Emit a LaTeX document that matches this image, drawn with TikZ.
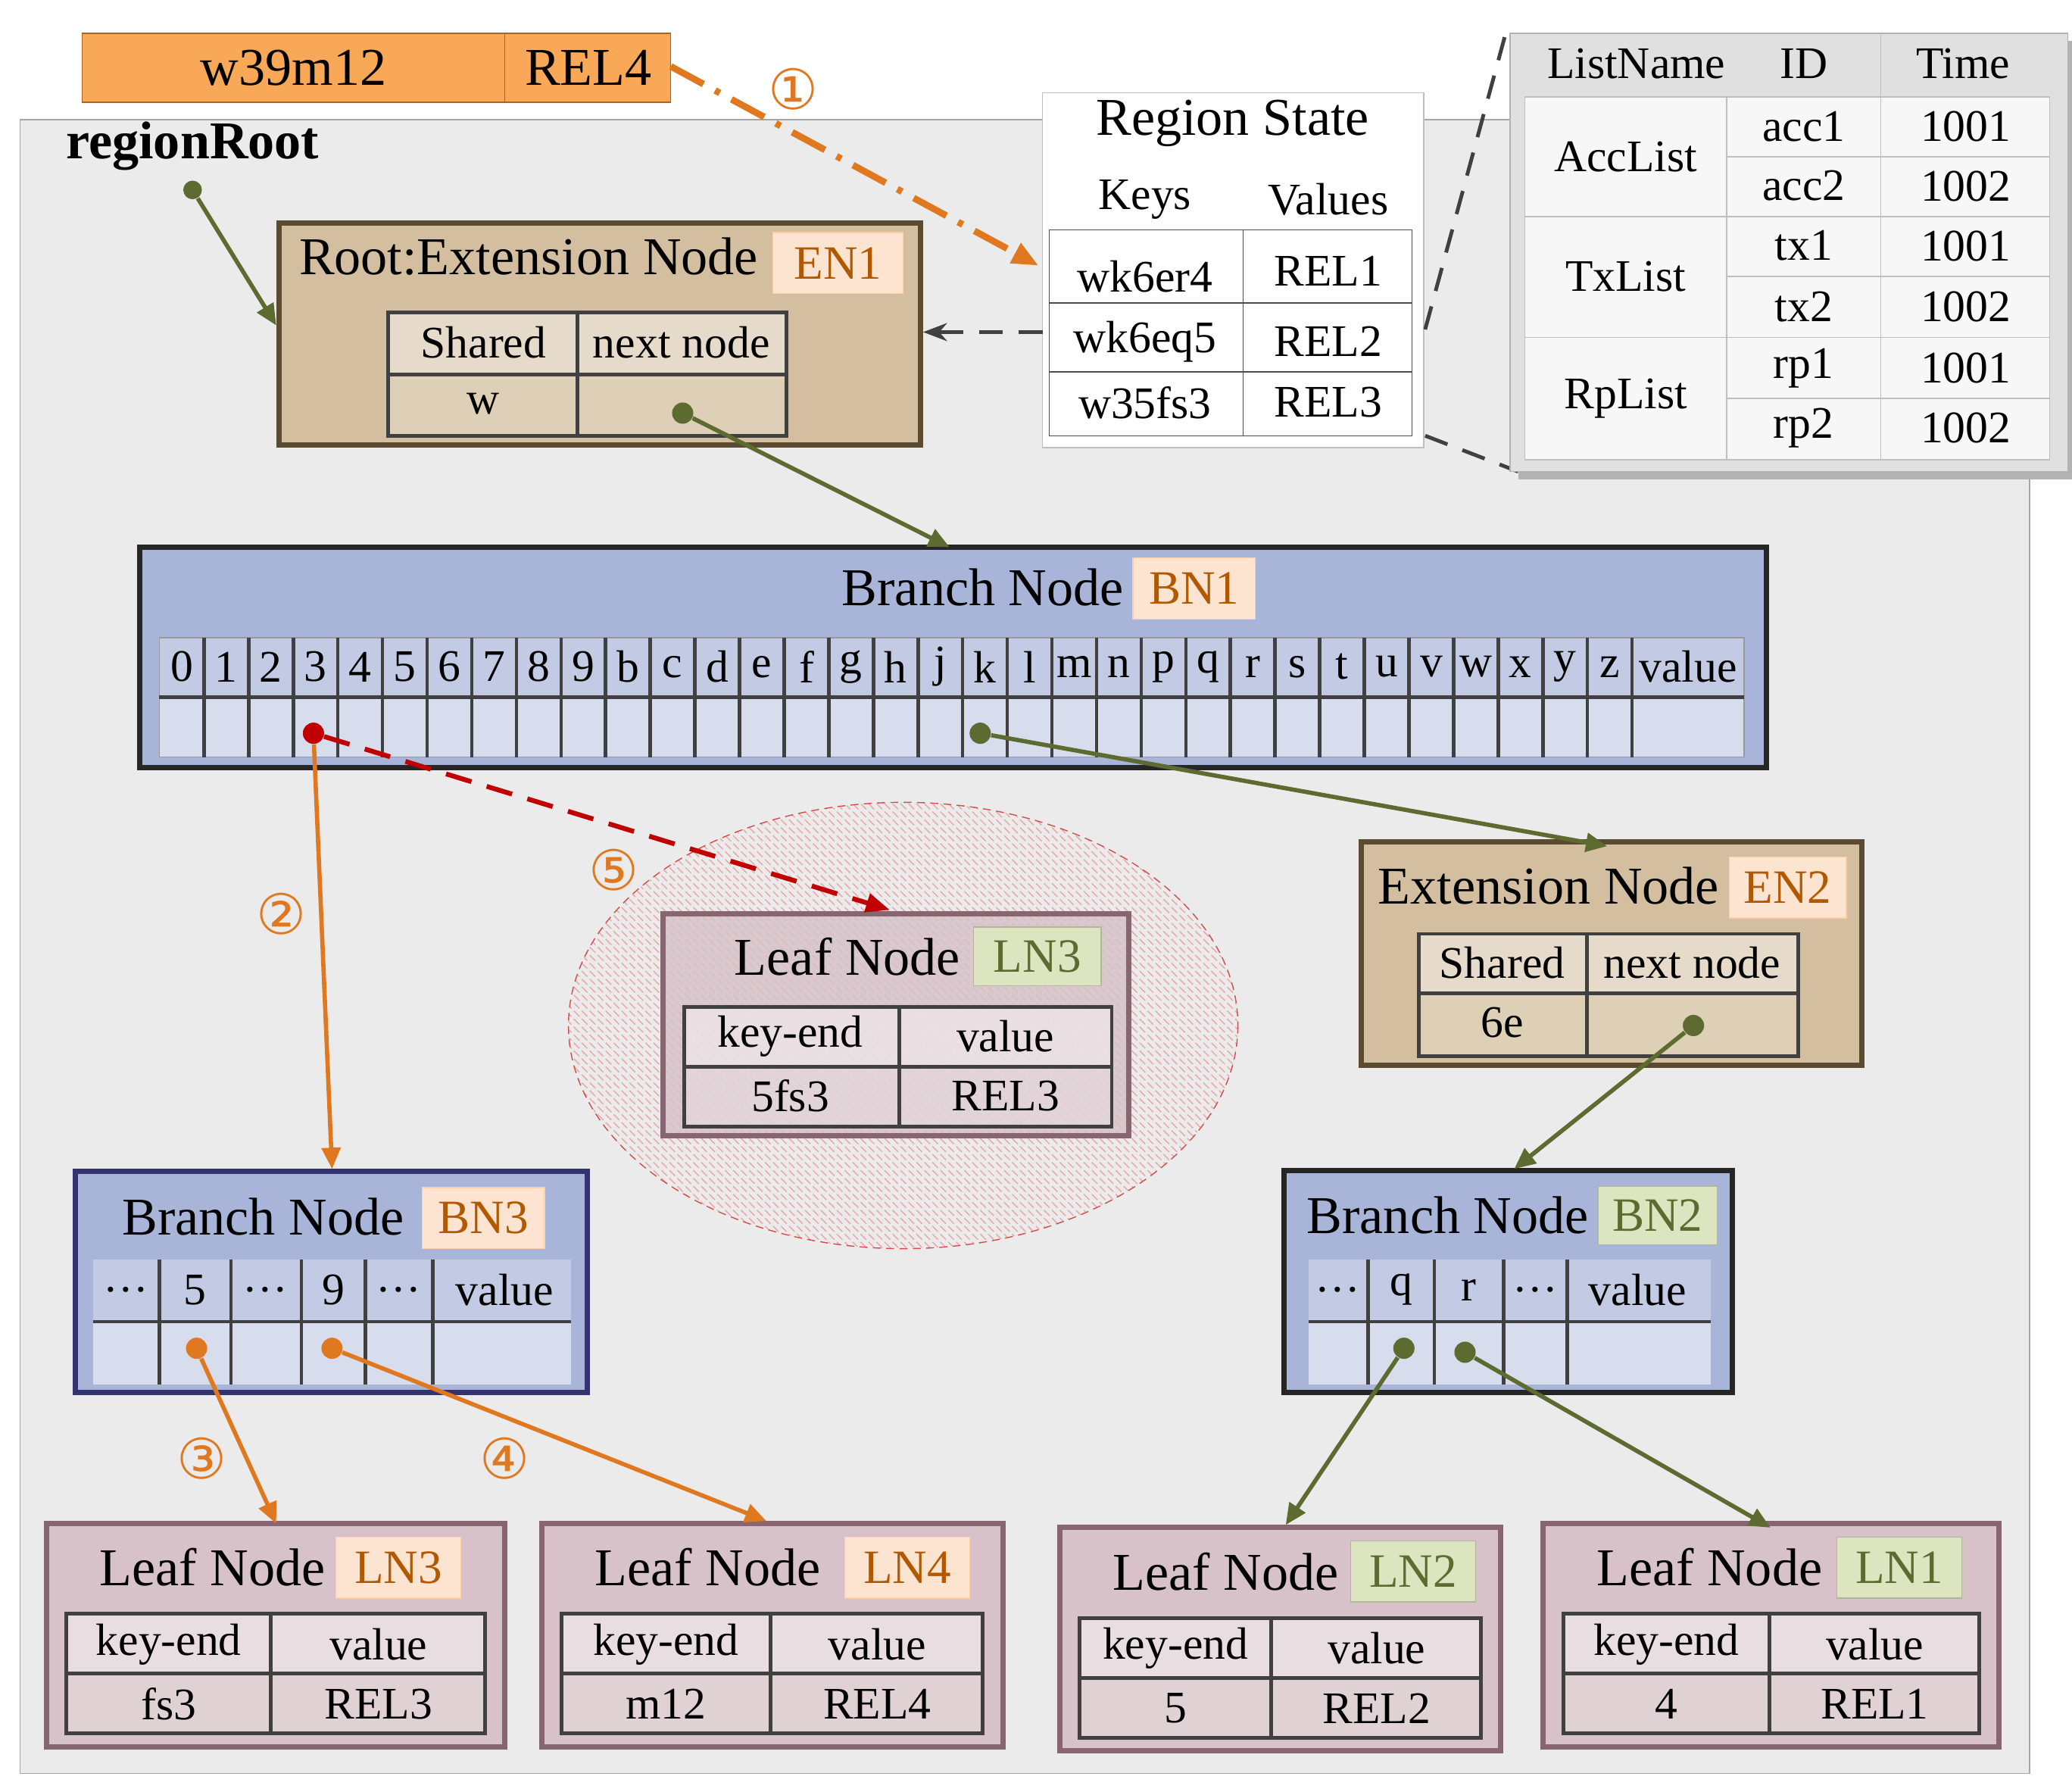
\documentclass[tikz,border=0pt]{standalone}
\usepackage{fontspec}
\setmainfont{Liberation Serif}
\newfontfamily\circf{DejaVu Sans}
\usetikzlibrary{arrows.meta,patterns}
\definecolor{tan}{HTML}{D3BFA0}
\definecolor{tanb}{HTML}{5A4A30}
\definecolor{blu}{HTML}{A9B5D8}
\definecolor{leaf}{HTML}{D6C2C8}
\definecolor{peach}{HTML}{FCE4D0}
\definecolor{pgreen}{HTML}{DDE5C0}
\definecolor{org}{HTML}{E07820}
\definecolor{olv}{HTML}{5E6B30}
\definecolor{rd}{HTML}{C00000}
\tikzset{
 big/.style={font=\fontsize{20}{22}\selectfont},
 cell/.style={font=\fontsize{17}{19}\selectfont},
 tagO/.style={fill=peach,draw=peach!80!orange,text=orange!70!black,font=\fontsize{18}{20}\selectfont},
 tagG/.style={fill=pgreen,draw=pgreen!80!black,text=olv,font=\fontsize{18}{20}\selectfont},
 garr/.style={olv,line width=1.6pt,-{Triangle[length=8pt,width=7pt]}},
 oarr/.style={org,line width=1.6pt,-{Triangle[length=8pt,width=7pt]}},
 dot/.style={circle,inner sep=0pt,minimum size=5pt},
 circ/.style={text=org,font=\circf\fontsize{21}{23}\selectfont},
 gdash/.style={black!75,line width=1.4pt,dash pattern=on 9pt off 6pt},
}
\newcommand\ttab[6]{%
 \fill[white,opacity=.45] (#1,#4) rectangle (#3,#5);
 \fill[white,opacity=.25] (#1,#5) rectangle (#3,#6);
 \draw[black!75,line width=1.4pt] (#1,#4) rectangle (#3,#6) (#2,#4)--(#2,#6) (#1,#5)--(#3,#5);
}
\begin{document}
\begin{tikzpicture}[x=0.5pt,y=-0.5pt]
\useasboundingbox (0,0) rectangle (1560,1349);
% region
\draw[black!35,fill=black!8] (15,90) rectangle (1528,1335);
% top bar
\draw[org!80!black,fill=orange!65!white!90!brown] (62,25) rectangle (505,77);
\draw[org!80!black] (380,25)--(380,77);
\node[big] (bw) at (221,51) {w39m12};
\node[big] (brel) at (443,51) {REL4};
\coordinate (brelE) at (505,50);
\node[font=\bfseries\fontsize{20}{22}\selectfont] (rr) at (145,110) {regionRoot};
\node[dot,fill=olv,minimum size=7pt] (rrd) at (145,143) {};
% Root extension
\draw[tanb,line width=2pt,fill=tan] (210,168) rectangle (693,335);
\node[big] (en1t) at (398,193) {Root:Extension Node};
\node[tagO,minimum width=49pt,minimum height=23pt] (en1) at (631,198) {EN1};
\ttab{292}{435}{592}{235}{282}{328}
\node[cell] at (364,258) {Shared}; \node[cell] at (513,258) {next node};
\node[cell] at (364,304) {w};
\node[dot,fill=olv,minimum size=8pt] (en1d) at (514,311) {};
\coordinate (rootin) at (208,245);
% Region state
\draw[black!25,fill=white] (785,70) rectangle (1072,337);
\node[big] at (928,93) {Region State};
\node[cell] at (862,150) {Keys}; \node[cell] at (1000,150) {Values};
\draw[black!70] (790,173) rectangle (1063,328) (936,173)--(936,328) (790,228)--(1063,228) (790,280)--(1063,280);
\node[cell] at (862,208) {wk6er4}; \node[cell] at (1000,204) {REL1};
\node[cell] at (862,257) {wk6eq5}; \node[cell] at (1000,257) {REL2};
\node[cell] at (862,303) {w35fs3}; \node[cell] at (1000,303) {REL3};
\coordinate (rsL) at (785,250); \coordinate (en1R) at (695,250);
\coordinate (rsin) at (782,200);
\draw[gdash] (1073,248)--(1135,20) (1073,328)--(1143,355);
% right table
\fill[black!30] (1143,31) rectangle (1563,361);
\draw[black!30,fill=black!12] (1137,25) rectangle (1557,355);
\draw[black!25,fill=white!60!black!8] (1148,73) rectangle (1543,346);
\draw[black!25] (1300,73)--(1300,346) (1416,25)--(1416,346) (1148,73)--(1543,73);
\foreach \y in {118,208,300} \draw[black!25] (1300,\y)--(1543,\y);
\foreach \y in {163,254} \draw[black!25] (1148,\y)--(1543,\y);
\node[cell] at (1232,48) {ListName}; \node[cell] at (1358,48) {ID}; \node[cell] at (1478,48) {Time};
\node[cell] at (1224,118) {AccList}; \node[cell] at (1224,208) {TxList}; \node[cell] at (1224,300) {RpList};
\foreach \t/\y/\v in {acc1/95/1001,acc2/140/1002,tx1/185/1001,tx2/231/1002,rp1/277/1001,rp2/322/1002}{
 \node[cell] at (1358,\y) {\t}; \node[cell] at (1480,\y) {\v};}
% BN1
\draw[black!85,line width=2pt,fill=blu] (105,412) rectangle (1330,578);
\node[big] at (740,442) {Branch Node};
\node[tagO,minimum width=46pt,minimum height=23pt] (bn1) at (899,443) {BN1};
\fill[white,opacity=.3] (120,480) rectangle (1313,525);
\fill[white,opacity=.55] (120,525) rectangle (1313,570);
\draw[black!40] (120,480) rectangle (1313,570);
\draw[black!75,line width=1.3pt] (120,525)--(1313,525);
\foreach[count=\i from 0] \c in {0,1,2,3,4,5,6,7,8,9,b,c,d,e,f,g,h,j,k,l,m,n,p,q,r,s,t,u,v,w,x,y,z}{
 \node[cell] at (120+\i*33.6+16.8,502) {\c};
 \draw[black!75,line width=1.3pt] (120+\i*33.6+33.6,480)--(120+\i*33.6+33.6,570);}
\node[cell] at (1271,502) {value};
\coordinate (bn1in) at (715,412);
\node[dot,fill=rd,minimum size=8pt] (d3) at (236,552) {};
\node[dot,fill=olv,minimum size=8pt] (dk) at (738,552) {};
% ellipse
\draw[rd!70,densely dashed,pattern=north west lines,pattern color=rd!35] (680,772) ellipse [x radius=252,y radius=168];
% LN3 middle
\draw[black!70!purple!60,line width=2pt,fill=leaf,fill opacity=.85] (499,688) rectangle (850,855);
\node[big] at (638,720) {Leaf Node};
\node[tagG,minimum width=48pt,minimum height=22pt] at (781,720) {LN3};
\ttab{515}{677}{837}{758}{803}{848}
\node[cell] at (595,780) {key-end}; \node[cell] at (757,780) {value};
\node[cell] at (595,825) {5fs3}; \node[cell] at (757,825) {REL3};
\coordinate (ln3min) at (670,685);
% EN2
\draw[tanb,line width=2pt,fill=tan] (1025,634) rectangle (1402,802);
\node[big] at (1166,667) {Extension Node};
\node[tagO,minimum width=44pt,minimum height=23pt] at (1346,668) {EN2};
\ttab{1068}{1195}{1354}{703}{748}{795}
\node[cell] at (1131,725) {Shared}; \node[cell] at (1274,725) {next node};
\node[cell] at (1131,770) {6e};
\node[dot,fill=olv,minimum size=8pt] (en2d) at (1275,772) {};
\coordinate (en2in) at (1210,637);
% BN3
\draw[blue!30!black!80,line width=2pt,fill=blu] (57,882) rectangle (442,1048);
\node[big] at (198,916) {Branch Node};
\node[tagO,minimum width=46pt,minimum height=23pt] at (364,917) {BN3};
\fill[white,opacity=.3] (70,948) rectangle (430,995);
\fill[white,opacity=.55] (70,995) rectangle (430,1042);
\draw[black!75,line width=1.3pt] (70,995)--(430,995);
\foreach \x in {120,174,227,275,326} \draw[black!75,line width=1.3pt] (\x,948)--(\x,1042);
\foreach \x/\t in {95/\dots,147/5,200/\dots,251/9,300/\dots,380/value} \node[cell] at (\x,971) {\t};
\node[dot,fill=org,minimum size=8pt] (b5) at (148,1015) {};
\node[dot,fill=org,minimum size=8pt] (b9) at (250,1015) {};
\coordinate (bn3in) at (250,880);
% BN2
\draw[black!85,line width=2pt,fill=blu] (967,881) rectangle (1304,1048);
\node[big] at (1090,915) {Branch Node};
\node[tagG,minimum width=45pt,minimum height=22pt] at (1248,915) {BN2};
\fill[white,opacity=.3] (985,948) rectangle (1288,995);
\fill[white,opacity=.55] (985,995) rectangle (1288,1042);
\draw[black!75,line width=1.3pt] (985,995)--(1288,995);
\foreach \x in {1030,1080,1132,1180} \draw[black!75,line width=1.3pt] (\x,948)--(\x,1042);
\foreach \x/\t in {1007/\dots,1055/q,1106/r,1156/\dots,1233/value} \node[cell] at (\x,971) {\t};
\node[dot,fill=olv,minimum size=8pt] (bq) at (1057,1015) {};
\node[dot,fill=olv,minimum size=8pt] (br) at (1103,1018) {};
\coordinate (bn2in) at (1140,880);
% leaves bottom
\newcommand\leafbox[9]{%
 \draw[black!70!purple!60,line width=2pt,fill=leaf] (#1,#3) rectangle (#2,#3+168);
 \node[big] at (#1+125,#3+33) {Leaf Node};
 \node[#7,minimum width=47pt,minimum height=23pt] at (#4,#3+33) {#9};
 \ttab{#1+15}{#8}{#2-15}{#3+68}{#3+113}{#3+158}
 \node[cell] at (#1/2+7.5+#8/2,#3+91) {key-end}; \node[cell] at (#8/2+#2/2-7,#3+91) {value};
 \node[cell] at (#1/2+7.5+#8/2,#3+136) {#5}; \node[cell] at (#8/2+#2/2-7,#3+136) {#6};
}
\leafbox{35}{380}{1147}{300}{fs3}{REL3}{tagO}{204}{LN3}
\leafbox{408}{755}{1147}{683}{m12}{REL4}{tagO}{580}{LN4}
\leafbox{798}{1130}{1150}{1064}{5}{REL2}{tagG}{957}{LN2}
\leafbox{1162}{1505}{1147}{1430}{4}{REL1}{tagG}{1332}{LN1}
\coordinate (ln3in) at (208,1147); \coordinate (ln4in) at (577,1145);
\coordinate (ln2in) at (968,1148); \coordinate (ln1in) at (1333,1150);
% connectors
\draw[garr] (rrd)--(rootin);
\draw[garr] (en1d)--(bn1in);
\draw[gdash,-{Stealth[length=9pt]}] (rsL)--(en1R);
\draw[org,line width=2.5pt,dash pattern=on 14pt off 5pt on 2pt off 5pt,-{Triangle[length=10pt,width=8pt]}] (brelE)--(rsin);
\draw[rd,line width=1.8pt,dash pattern=on 10pt off 6pt,-{Triangle[length=9pt,width=7pt]}] (d3)--(ln3min);
\draw[oarr] (d3)--(bn3in);
\draw[garr] (dk)--(en2in);
\draw[garr] (en2d)--(bn2in);
\draw[oarr] (b5)--(ln3in);
\draw[oarr] (b9)--(ln4in);
\draw[garr] (bq)--(ln2in);
\draw[garr] (br)--(ln1in);
\node[circ] at (597,67) {①};
\node[circ] at (212,688) {②};
\node[circ] at (152,1098) {③};
\node[circ] at (380,1098) {④};
\node[circ] at (462,655) {⑤};
\end{tikzpicture}
\end{document}
